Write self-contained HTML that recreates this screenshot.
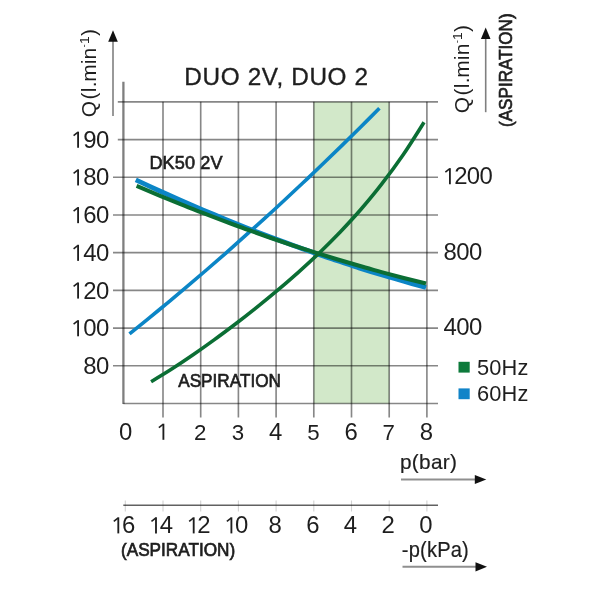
<!DOCTYPE html>
<html><head><meta charset="utf-8"><title>DUO 2V, DUO 2</title>
<style>html,body{margin:0;padding:0;background:#fff}body{width:600px;height:600px;overflow:hidden}svg{display:block;filter:blur(0.55px)}text{font-family:"Liberation Sans",sans-serif;fill:#1e1e1e}</style></head><body>
<svg width="600" height="600" viewBox="0 0 600 600">
<rect x="-5" y="-5" width="610" height="610" fill="#fff"/>
<rect x="313.80" y="101.85" width="75.40" height="301.65" fill="#d2e8c9"/>
<g stroke="#000" stroke-opacity="0.47" stroke-width="1.65" fill="none">
<line x1="163.00" y1="101.85" x2="163.00" y2="417.50"/>
<line x1="200.70" y1="101.85" x2="200.70" y2="417.50"/>
<line x1="238.40" y1="101.85" x2="238.40" y2="417.50"/>
<line x1="276.10" y1="101.85" x2="276.10" y2="417.50"/>
<line x1="313.80" y1="101.85" x2="313.80" y2="417.50"/>
<line x1="351.50" y1="101.85" x2="351.50" y2="417.50"/>
<line x1="389.20" y1="101.85" x2="389.20" y2="417.50"/>
<line x1="426.90" y1="101.85" x2="426.90" y2="417.50"/>
<line x1="117.80" y1="101.85" x2="438.00" y2="101.85"/>
<line x1="117.80" y1="139.56" x2="438.00" y2="139.56"/>
<line x1="113.00" y1="177.26" x2="438.00" y2="177.26"/>
<line x1="113.00" y1="214.97" x2="438.00" y2="214.97"/>
<line x1="113.00" y1="252.67" x2="438.00" y2="252.67"/>
<line x1="113.00" y1="290.38" x2="438.00" y2="290.38"/>
<line x1="113.00" y1="328.09" x2="438.00" y2="328.09"/>
<line x1="113.00" y1="365.79" x2="438.00" y2="365.79"/>
<line x1="123.40" y1="403.50" x2="438.00" y2="403.50"/>
</g>
<line x1="123.4" y1="81.7" x2="123.4" y2="404.00" stroke="#000" stroke-opacity="0.5" stroke-width="2.3"/>
<g stroke="#d2d2d2" stroke-width="1.1">
<line x1="125.30" y1="500.5" x2="125.30" y2="511.5"/>
<line x1="163.00" y1="500.5" x2="163.00" y2="511.5"/>
<line x1="200.70" y1="500.5" x2="200.70" y2="511.5"/>
<line x1="238.40" y1="500.5" x2="238.40" y2="511.5"/>
<line x1="276.10" y1="500.5" x2="276.10" y2="511.5"/>
<line x1="313.80" y1="500.5" x2="313.80" y2="511.5"/>
<line x1="351.50" y1="500.5" x2="351.50" y2="511.5"/>
<line x1="389.20" y1="500.5" x2="389.20" y2="511.5"/>
<line x1="426.90" y1="500.5" x2="426.90" y2="511.5"/>
</g>
<line x1="123.3" y1="505.2" x2="438" y2="505.2" stroke="#000" stroke-opacity="0.62" stroke-width="1.65"/>
<g fill="none" stroke-linecap="butt">
<path d="M135.8,179.8 C139.5,181.5 150.7,186.8 158.1,190.2 C165.6,193.6 173.0,196.9 180.4,200.2 C187.9,203.5 195.3,206.7 202.8,209.9 C210.2,213.0 217.7,216.1 225.1,219.2 C232.5,222.2 240.0,225.2 247.4,228.2 C254.9,231.1 262.3,234.0 269.7,236.8 C277.2,239.6 284.6,242.4 292.1,245.1 C299.5,247.8 306.9,250.4 314.4,253.0 C321.8,255.6 329.3,258.1 336.7,260.6 C344.1,263.1 351.6,265.5 359.0,267.9 C366.5,270.2 373.9,272.5 381.4,274.8 C388.8,277.0 396.2,279.2 403.7,281.3 C411.1,283.4 422.3,286.5 426.0,287.5" stroke="#0b85c6" stroke-width="4.8"/>
<path d="M129.5,333.9 C132.7,331.3 142.3,323.6 148.7,318.4 C155.1,313.1 161.5,307.9 167.9,302.6 C174.4,297.2 180.8,291.9 187.2,286.4 C193.6,281.0 200.0,275.5 206.4,270.0 C212.8,264.5 219.2,258.9 225.6,253.3 C232.0,247.7 238.4,242.0 244.8,236.2 C251.2,230.5 257.7,224.7 264.1,218.9 C270.5,213.1 276.9,207.2 283.3,201.2 C289.7,195.3 296.1,189.3 302.5,183.3 C308.9,177.2 315.3,171.1 321.7,165.0 C328.1,158.8 334.5,152.6 341.0,146.4 C347.4,140.1 353.8,133.8 360.2,127.5 C366.6,121.1 376.2,111.5 379.4,108.3" stroke="#0b85c6" stroke-width="3.6"/>
<path d="M136.6,185.9 C140.3,187.4 151.4,192.2 158.9,195.3 C166.3,198.4 173.7,201.4 181.1,204.4 C188.5,207.4 196.0,210.3 203.4,213.2 C210.8,216.1 218.2,218.9 225.6,221.7 C233.1,224.4 240.5,227.2 247.9,229.8 C255.3,232.5 262.7,235.1 270.2,237.7 C277.6,240.2 285.0,242.7 292.4,245.2 C299.9,247.6 307.3,250.0 314.7,252.4 C322.1,254.7 329.5,257.0 337.0,259.3 C344.4,261.5 351.8,263.7 359.2,265.8 C366.6,268.0 374.1,270.0 381.5,272.1 C388.9,274.1 396.3,276.1 403.7,278.0 C411.2,279.9 422.3,282.7 426.0,283.6" stroke="#0b6e34" stroke-width="4.1"/>
<path d="M151.1,381.7 C154.6,379.6 165.1,373.3 172.1,368.8 C179.1,364.3 186.1,359.6 193.1,354.8 C200.1,350.0 207.1,345.0 214.1,339.9 C221.1,334.9 228.1,329.6 235.1,324.3 C242.1,319.0 249.1,313.5 256.1,307.9 C263.1,302.3 270.1,296.6 277.1,290.7 C284.1,284.8 291.0,278.8 298.0,272.6 C305.0,266.3 312.0,259.9 319.0,253.2 C326.0,246.5 333.0,239.6 340.0,232.3 C347.0,224.9 354.0,217.4 361.0,209.3 C368.0,201.2 375.0,192.8 382.0,183.7 C389.0,174.7 396.0,165.2 403.0,155.0 C410.0,144.8 420.5,127.8 424.0,122.3" stroke="#0b6e34" stroke-width="3.6"/>
</g>
<line x1="113.0" y1="40.7" x2="113.0" y2="116" stroke="#000" stroke-opacity="0.5" stroke-width="1.6"/>
<path d="M113.0,30.3 L117.8,41.7 L108.2,41.7 Z" fill="#111"/>
<line x1="485.7" y1="37.9" x2="485.7" y2="112.2" stroke="#000" stroke-opacity="0.5" stroke-width="1.6"/>
<path d="M485.7,27.5 L490.5,38.9 L480.9,38.9 Z" fill="#111"/>
<line x1="401" y1="479.5" x2="475.8" y2="479.5" stroke="#000" stroke-opacity="0.44" stroke-width="1.9"/>
<path d="M486.3,479.5 L474.8,474.9 L474.8,484.1 Z" fill="#111"/>
<line x1="402.5" y1="566.8" x2="476.5" y2="566.8" stroke="#000" stroke-opacity="0.44" stroke-width="1.9"/>
<path d="M487,566.8 L475.5,562.1999999999999 L475.5,571.4 Z" fill="#111"/>
<text transform="translate(184.30,84.70)" font-size="24.3" text-anchor="start" letter-spacing="0.65" stroke="#1e1e1e" stroke-width="0.35">DUO 2V, DUO 2</text>
<text transform="translate(108.60,147.76) scale(1.04,1)" font-size="23.0" text-anchor="end" letter-spacing="-0.6">90</text>
<path d="M77.17,131.66 h1.85 V147.76 h-1.85 Z" fill="#1e1e1e"/>
<path d="M77.72,132.41 L73.58,135.66" stroke="#1e1e1e" stroke-width="1.55" fill="none"/>
<text transform="translate(108.60,185.46) scale(1.04,1)" font-size="23.0" text-anchor="end" letter-spacing="-0.6">80</text>
<path d="M77.17,169.36 h1.85 V185.46 h-1.85 Z" fill="#1e1e1e"/>
<path d="M77.72,170.11 L73.58,173.36" stroke="#1e1e1e" stroke-width="1.55" fill="none"/>
<text transform="translate(108.60,223.17) scale(1.04,1)" font-size="23.0" text-anchor="end" letter-spacing="-0.6">60</text>
<path d="M77.17,207.07 h1.85 V223.17 h-1.85 Z" fill="#1e1e1e"/>
<path d="M77.72,207.82 L73.58,211.07" stroke="#1e1e1e" stroke-width="1.55" fill="none"/>
<text transform="translate(108.60,260.87) scale(1.04,1)" font-size="23.0" text-anchor="end" letter-spacing="-0.6">40</text>
<path d="M77.17,244.77 h1.85 V260.87 h-1.85 Z" fill="#1e1e1e"/>
<path d="M77.72,245.52 L73.58,248.77" stroke="#1e1e1e" stroke-width="1.55" fill="none"/>
<text transform="translate(108.60,298.58) scale(1.04,1)" font-size="23.0" text-anchor="end" letter-spacing="-0.6">20</text>
<path d="M77.17,282.48 h1.85 V298.58 h-1.85 Z" fill="#1e1e1e"/>
<path d="M77.72,283.23 L73.58,286.48" stroke="#1e1e1e" stroke-width="1.55" fill="none"/>
<text transform="translate(108.60,336.29) scale(1.04,1)" font-size="23.0" text-anchor="end" letter-spacing="-0.6">00</text>
<path d="M77.17,320.19 h1.85 V336.29 h-1.85 Z" fill="#1e1e1e"/>
<path d="M77.72,320.94 L73.58,324.19" stroke="#1e1e1e" stroke-width="1.55" fill="none"/>
<text transform="translate(108.60,373.99) scale(1.04,1)" font-size="23.0" text-anchor="end" letter-spacing="-0.6">80</text>
<text transform="translate(454.20,184.26) scale(1.04,1)" font-size="23.0" text-anchor="start" letter-spacing="-0.6">200</text>
<path d="M448.97,168.16 h1.85 V184.26 h-1.85 Z" fill="#1e1e1e"/>
<path d="M449.52,168.91 L445.37,172.16" stroke="#1e1e1e" stroke-width="1.55" fill="none"/>
<text transform="translate(443.60,259.67) scale(1.04,1)" font-size="23.0" text-anchor="start" letter-spacing="-0.6">800</text>
<text transform="translate(443.60,335.09) scale(1.04,1)" font-size="23.0" text-anchor="start" letter-spacing="-0.6">400</text>
<text transform="translate(125.70,439.80) scale(1.04,1)" font-size="23.0" text-anchor="middle">0</text>
<path d="M162.47,423.70 h1.85 V439.80 h-1.85 Z" fill="#1e1e1e"/>
<path d="M163.03,424.45 L158.88,427.70" stroke="#1e1e1e" stroke-width="1.55" fill="none"/>
<text transform="translate(200.30,439.80) scale(0.97,1)" font-size="23.0" text-anchor="middle">2</text>
<text transform="translate(238.00,439.80) scale(0.97,1)" font-size="23.0" text-anchor="middle">3</text>
<text transform="translate(275.70,439.80) scale(1.04,1)" font-size="23.0" text-anchor="middle">4</text>
<text transform="translate(313.40,439.80) scale(0.97,1)" font-size="23.0" text-anchor="middle">5</text>
<text transform="translate(351.10,439.80) scale(1.04,1)" font-size="23.0" text-anchor="middle">6</text>
<text transform="translate(388.80,439.80) scale(0.97,1)" font-size="23.0" text-anchor="middle">7</text>
<text transform="translate(426.50,439.80) scale(1.04,1)" font-size="23.0" text-anchor="middle">8</text>
<text transform="translate(128.60,533.40) scale(1.04,1)" font-size="23.0" text-anchor="middle">6</text>
<path d="M117.38,517.30 h1.85 V533.40 h-1.85 Z" fill="#1e1e1e"/>
<path d="M117.92,518.05 L113.78,521.30" stroke="#1e1e1e" stroke-width="1.55" fill="none"/>
<text transform="translate(166.30,533.40) scale(1.04,1)" font-size="23.0" text-anchor="middle">4</text>
<path d="M155.07,517.30 h1.85 V533.40 h-1.85 Z" fill="#1e1e1e"/>
<path d="M155.62,518.05 L151.47,521.30" stroke="#1e1e1e" stroke-width="1.55" fill="none"/>
<text transform="translate(204.00,533.40) scale(1.04,1)" font-size="23.0" text-anchor="middle">2</text>
<path d="M192.77,517.30 h1.85 V533.40 h-1.85 Z" fill="#1e1e1e"/>
<path d="M193.32,518.05 L189.17,521.30" stroke="#1e1e1e" stroke-width="1.55" fill="none"/>
<text transform="translate(241.70,533.40) scale(1.04,1)" font-size="23.0" text-anchor="middle">0</text>
<path d="M230.47,517.30 h1.85 V533.40 h-1.85 Z" fill="#1e1e1e"/>
<path d="M231.03,518.05 L226.88,521.30" stroke="#1e1e1e" stroke-width="1.55" fill="none"/>
<text transform="translate(275.10,533.40) scale(1.04,1)" font-size="23.0" text-anchor="middle">8</text>
<text transform="translate(312.80,533.40) scale(1.04,1)" font-size="23.0" text-anchor="middle">6</text>
<text transform="translate(350.50,533.40) scale(1.04,1)" font-size="23.0" text-anchor="middle">4</text>
<text transform="translate(388.20,533.40) scale(1.04,1)" font-size="23.0" text-anchor="middle">2</text>
<text transform="translate(425.90,533.40) scale(1.04,1)" font-size="23.0" text-anchor="middle">0</text>
<text transform="translate(121.00,556.30) scale(0.955,1)" font-size="18" text-anchor="start" stroke="#1e1e1e" stroke-width="0.7">(ASPIRATION)</text>
<text transform="translate(400.00,469.40)" font-size="20.8" text-anchor="start" letter-spacing="0.3" stroke="#1e1e1e" stroke-width="0.2">p(bar)</text>
<text transform="translate(401.80,557.00) scale(0.935,1)" font-size="21.5" text-anchor="start" letter-spacing="0.2" stroke="#1e1e1e" stroke-width="0.2">-p(kPa)</text>
<text transform="translate(149.40,168.80) scale(0.975,1)" font-size="18.6" text-anchor="start" letter-spacing="0.1" stroke="#1e1e1e" stroke-width="0.65">DK50 2V</text>
<text transform="translate(178.20,386.60) scale(0.945,1)" font-size="18.2" text-anchor="start" stroke="#1e1e1e" stroke-width="0.65">ASPIRATION</text>
<rect x="458.5" y="361.8" width="11.2" height="10.8" fill="#0d7a3b"/>
<rect x="458.5" y="388.4" width="11.2" height="10.8" fill="#1184c8"/>
<text transform="translate(476.90,374.90) scale(1.025,1)" font-size="21.3" text-anchor="start" letter-spacing="0.2">50Hz</text>
<text transform="translate(476.90,400.90) scale(1.025,1)" font-size="21.3" text-anchor="start" letter-spacing="0.2">60Hz</text>
<text transform="translate(96.00,117.30) rotate(-90) scale(1.03,1)" font-size="20.3" text-anchor="start" letter-spacing="0.3">Q<tspan dx="1.2">(</tspan>l.<tspan dx="-0.6">m</tspan><tspan dx="-0.3">i</tspan>n<tspan font-size="9" dy="-9.2">-</tspan><tspan font-size="13.5" dy="1.7">1</tspan><tspan dy="7.5">)</tspan></text>
<text transform="translate(469.00,113.20) rotate(-90) scale(1.03,1)" font-size="20.3" text-anchor="start" letter-spacing="0.3">Q<tspan dx="1.2">(</tspan>l.<tspan dx="-0.6">m</tspan><tspan dx="-0.3">i</tspan>n<tspan font-size="9" dy="-9.2">-</tspan><tspan font-size="13.5" dy="1.7">1</tspan><tspan dy="7.5">)</tspan></text>
<text transform="translate(512.20,127.00) rotate(-90) scale(0.93,1)" font-size="18.4" text-anchor="start" stroke="#1e1e1e" stroke-width="0.65">(ASPIRATION)</text>
</svg></body></html>
